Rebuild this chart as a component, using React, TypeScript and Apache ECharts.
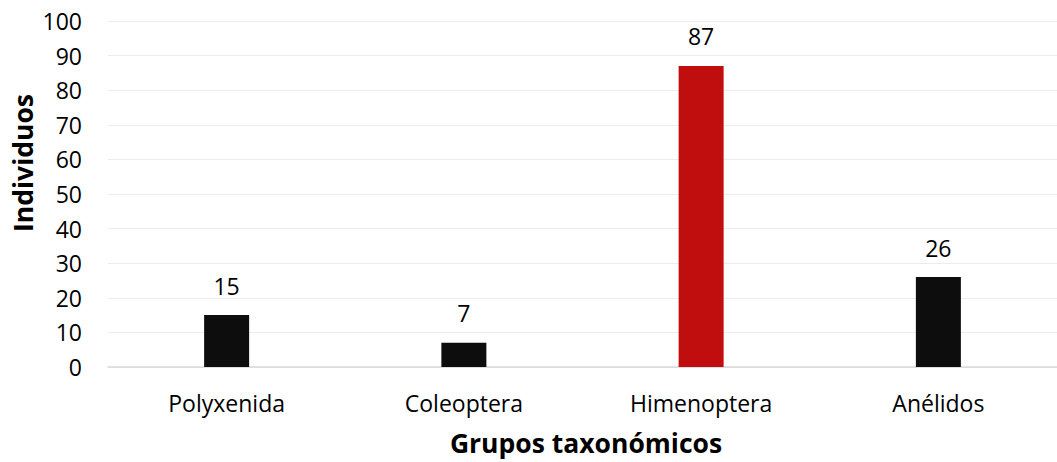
import React, { useEffect, useRef } from "react";
import * as echarts from "echarts";

const categories = ["Polyxenida", "Coleoptera", "Himenoptera", "Anélidos"];
const values = [15, 7, 87, 26];
const barColors = ["#0d0d0d", "#0d0d0d", "#c00d0d", "#0d0d0d"];
const yTitle = "Individuos";
const xTitle = "Grupos taxonómicos";

const FONT = "'Open Sans', sans-serif";

export default function App() {
  const ref = useRef<HTMLDivElement>(null);
  useEffect(() => {
    if (!ref.current) return;
    const chart = echarts.init(ref.current, null, { renderer: "svg" });
    chart.setOption({
      animation: false,
      backgroundColor: "#ffffff",
      grid: { left: 108, top: 21, width: 958, height: 346, containLabel: false },
      xAxis: {
        type: "category",
        data: categories,
        axisLine: { lineStyle: { color: "#d9d9d9", width: 1.5 } },
        axisTick: { show: false },
        axisLabel: { color: "#000", fontFamily: FONT, fontSize: 23, margin: 24 },
      },
      yAxis: {
        type: "value",
        min: 0,
        max: 100,
        interval: 10,
        axisLine: { show: false },
        axisTick: { show: false },
        axisLabel: { color: "#000", fontFamily: FONT, fontSize: 23, margin: 26 },
        splitLine: { lineStyle: { color: "#ececec", width: 1.2 } },
      },
      graphic: [
        {
          type: "text",
          x: 23,
          y: 163,
          rotation: Math.PI / 2,
          style: {
            text: yTitle,
            fontFamily: FONT,
            fontSize: 26.5,
            fontWeight: "bold",
            fill: "#000",
            align: "center",
            verticalAlign: "middle",
          },
        },
        {
          type: "text",
          x: 586,
          y: 443,
          style: {
            text: xTitle,
            fontFamily: FONT,
            fontSize: 26.5,
            fontWeight: "bold",
            fill: "#000",
            align: "center",
            verticalAlign: "middle",
          },
        },
      ],
      series: [
        {
          type: "bar",
          barWidth: 45,
          data: values.map((v, i) => ({ value: v, itemStyle: { color: barColors[i] } })),
          label: {
            show: true,
            position: "top",
            distance: 18,
            color: "#000",
            fontFamily: FONT,
            fontSize: 23,
          },
        },
      ],
    });
    return () => chart.dispose();
  }, []);
  return <div ref={ref} style={{ width: 1057, height: 462, position: "absolute", left: 0, top: 0 }} />;
}
